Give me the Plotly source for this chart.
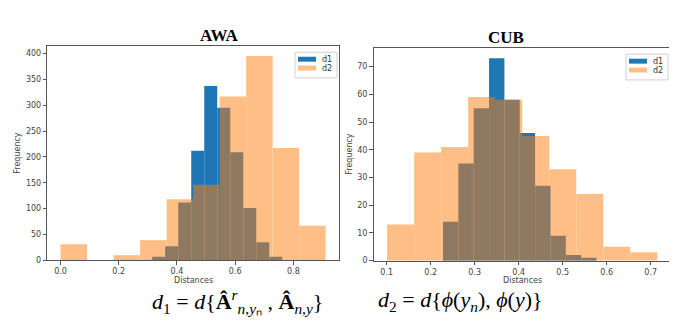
import plotly.graph_objects as go

# AWA histogram (10 bins each): bin range and counts
awa_d1_range = (0.315, 0.762)
awa_d1_counts = [7, 27, 112, 212, 337, 295, 209, 101, 35, 7]
awa_d2_range = (0.0, 0.911)
awa_d2_counts = [31, 0, 10, 39, 118, 146, 317, 395, 217, 67]

# CUB histogram
cub_d1_range = (0.228, 0.577)
cub_d1_counts = [14, 35, 55, 73, 58, 46, 27, 9, 2, 1]
cub_d2_range = (0.101, 0.715)
cub_d2_counts = [13, 39, 41, 59, 58, 45, 33, 24, 5, 3]

awa_xticks = [0.0, 0.2, 0.4, 0.6, 0.8]
cub_xticks = [0.1, 0.2, 0.3, 0.4, 0.5, 0.6, 0.7]
series_names = ["d1", "d2"]

BLUE = "#1f77b4"
ORANGE = "#ff7f0e"
ORANGE_A = "rgba(255,127,14,0.5)"
TICKFONT = dict(family="DejaVu Sans", size=8, color="#444")
W, H = 677, 326


def centers(rng, counts):
    lo, hi = rng
    w = (hi - lo) / len(counts)
    return [lo + w * (i + 0.5) for i in range(len(counts))], w


fig = go.Figure()


def add_hist(rng, counts, name, color, opacity, xa, ya):
    x, w = centers(rng, counts)
    fig.add_trace(go.Bar(x=x, y=counts, width=w, name=name, marker_color=color,
                         marker_line_width=0, opacity=opacity,
                         xaxis=xa, yaxis=ya, showlegend=False))


add_hist(awa_d1_range, awa_d1_counts, "d1", BLUE, 1.0, "x", "y")
add_hist(awa_d2_range, awa_d2_counts, "d2", ORANGE, 0.5, "x", "y")
add_hist(cub_d1_range, cub_d1_counts, "d1", BLUE, 1.0, "x2", "y2")
add_hist(cub_d2_range, cub_d2_counts, "d2", ORANGE, 0.5, "x2", "y2")

axis_style = dict(showline=True, mirror=True, linecolor="#555", linewidth=1,
                  ticks="outside", ticklen=3.5, tickcolor="#555", tickwidth=1,
                  showgrid=False, zeroline=False, tickfont=TICKFONT)

fig.update_layout(
    width=W, height=H,
    margin=dict(l=0, r=0, t=0, b=0),
    plot_bgcolor="white", paper_bgcolor="white",
    barmode="overlay",
    xaxis=dict(domain=[0.058, 0.489], range=[-0.0455, 0.957], anchor="y",
               tickvals=awa_xticks, tickformat=".1f", **axis_style),
    yaxis=dict(domain=[0.214, 0.882], range=[0, 414.75], anchor="x",
               dtick=50, **axis_style),
    xaxis2=dict(domain=[0.540, 0.979], range=[0.0703, 0.7457], anchor="y2",
                tickvals=cub_xticks, tickformat=".1f", **axis_style),
    yaxis2=dict(domain=[0.213, 0.875], range=[0, 76.65], anchor="x2",
                dtick=10, **axis_style),
)


def px_x(v):
    return v / W


def px_y(v):
    return 1 - v / H


# matplotlib-style legend boxes (patch + label)
for (bx0, by0, bx1, by1) in [(287, 45, 329, 71), (618, 47, 660, 73)]:
    fig.add_shape(type="rect", xref="paper", yref="paper",
                  x0=px_x(bx0), x1=px_x(bx1), y0=px_y(by0), y1=px_y(by1),
                  line=dict(color="#d0d0d0", width=1), fillcolor="white")
    for i, (name, col) in enumerate(zip(series_names, [BLUE, ORANGE_A])):
        cy = by0 + 7 + i * 9
        fig.add_shape(type="rect", xref="paper", yref="paper",
                      x0=px_x(bx0 + 3), x1=px_x(bx0 + 21),
                      y0=px_y(cy - 2.5), y1=px_y(cy + 2.5),
                      line=dict(width=0), fillcolor=col)
        fig.add_annotation(xref="paper", yref="paper", showarrow=False,
                           x=px_x(bx0 + 25), y=px_y(cy), xanchor="left", yanchor="middle",
                           text=name, font=dict(family="DejaVu Sans", size=8, color="#333"))

label_font = dict(family="DejaVu Sans", size=8, color="#444")
title_font = dict(family="Liberation Serif", size=17, color="black")
formula_font = dict(family="Liberation Serif", size=22, color="black")

annots = [
    dict(text="<b>AWA</b>", x=212, y=28, font=title_font),
    dict(text="<b>CUB</b>", x=498, y=30, font=title_font),
    dict(text="Distances", x=185, y=277, font=label_font),
    dict(text="Distances", x=514, y=277, font=label_font),
    dict(text="Frequency", x=10, y=147, font=label_font, textangle=-90),
    dict(text="Frequency", x=342, y=148, font=label_font, textangle=-90),
    dict(text="<i>d</i><sub>1</sub> = <i>d</i>{<b>Â</b><sup><i>r</i></sup><sub><i>n</i>,<i>y</i>ₙ</sub> , "
              "<b>Â</b><sub><i>n</i>,<i>y</i></sub>}",
         x=229, y=298, font=formula_font),
    dict(text="<i>d</i><sub>2</sub> = <i>d</i>{<i>ϕ</i>(<i>y</i><sub><i>n</i></sub>), <i>ϕ</i>(<i>y</i>)}",
         x=453, y=298, font=formula_font),
]
for a in annots:
    a["x"] = px_x(a["x"])
    a["y"] = px_y(a["y"])
    fig.add_annotation(xref="paper", yref="paper", showarrow=False,
                       xanchor="center", yanchor="middle", **a)

fig.write_html("out.html")
